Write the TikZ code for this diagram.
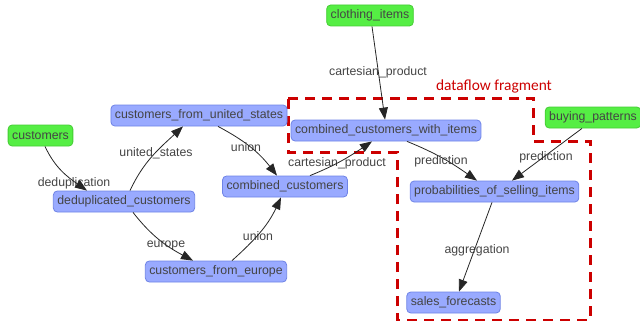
\documentclass[tikz,border=0pt]{standalone}
\usepackage{fontspec}
\setmainfont{Liberation Sans}
\newfontfamily\fragfont{Carlito}
\usepackage{tikz}
\usetikzlibrary{arrows.meta}
\definecolor{op_blue}{HTML}{99AAFF}
\definecolor{op_blue_line}{HTML}{6E83E6}
\definecolor{src_green}{HTML}{55EE44}
\definecolor{src_green_line}{HTML}{44CC33}
\definecolor{frag_red}{HTML}{CC0000}
\definecolor{txt_grey}{HTML}{444444}

\begin{document}
\begin{tikzpicture}[x=1pt,y=-1pt,
  source/.style={rectangle,draw=src_green_line,fill=src_green,line width=0.8pt,rounded corners=4pt,minimum height=21pt,inner xsep=4pt,inner ysep=0pt,text=txt_grey,font=\fontsize{12.3}{14}\selectfont},
  dataset/.style={rectangle,draw=op_blue_line,fill=op_blue,line width=0.8pt,rounded corners=4pt,minimum height=21pt,inner xsep=4pt,inner ysep=0pt,text=txt_grey,font=\fontsize{12.3}{14}\selectfont},
  edge_label/.style={inner sep=0pt,text=txt_grey,font=\fontsize{12.3}{14}\selectfont},
  flow/.style={-{Triangle[length=12pt,width=9pt]},line width=0.8pt,color=black!85},
  fragment/.style={draw=frag_red,line width=3pt,dash pattern=on 10pt off 7pt}
  ]

\useasboundingbox (0,0) rectangle (640,321);

% fragment
\draw[fragment] (288,98) -- (533,98) -- (533,141) -- (590,141) -- (590,320) -- (397,320) -- (397,152) -- (288,152) -- cycle;
\node[text=frag_red,font=\fragfont\fontsize{15.4}{17}\selectfont,inner sep=0pt] (frag) at (494,86) {dataflow fragment};

% sources
\node[source] (clothing) at (370,15.5) {clothing\_items};
\node[source] (customers) at (40.5,135.5) {customers};
\node[source] (buying) at (593,117.5) {buying\_patterns};

% datasets
\node[dataset] (us) at (199,115.5) {customers\_from\_united\_states};
\node[dataset] (withitems) at (386,130.5) {combined\_customers\_with\_items};
\node[dataset] (dedup) at (124,201.5) {deduplicated\_customers};
\node[dataset] (combined) at (285,186.5) {combined\_customers};
\node[dataset] (probs) at (494.5,191.5) {probabilities\_of\_selling\_items};
\node[dataset] (europe) at (216,271.5) {customers\_from\_europe};
\node[dataset] (sales) at (453.5,302.5) {sales\_forecasts};

% labels
\node[edge_label] (l_cart1) at (378,72) {cartesian\_product};
\node[edge_label] (l_us) at (156,153) {united\_states};
\node[edge_label] (l_union1) at (246,147) {union};
\node[edge_label] (l_dedup) at (74,183) {deduplication};
\node[edge_label] (l_cart2) at (337,163) {cartesian\_product};
\node[edge_label] (l_pred1) at (441,161) {prediction};
\node[edge_label] (l_pred2) at (546,157) {prediction};
\node[edge_label] (l_europe) at (166,245) {europe};
\node[edge_label] (l_union2) at (258,236) {union};
\node[edge_label] (l_aggr) at (477,250) {aggregation};

% edges
\draw[flow] ([xshift=2pt]clothing.south) -- ([xshift=-1pt]withitems.north);
\draw[flow] ([xshift=4.5pt]customers.south) to[out=-65,in=145] ([xshift=-37pt]dedup.north);
\draw[flow] ([xshift=6pt]dedup.north) to[out=65,in=-137] ([xshift=-16pt]us.south);
\draw[flow] ([xshift=19pt]us.south) to[out=-28,in=128] ([xshift=-8pt]combined.north);
\draw[flow] ([xshift=9pt]dedup.south) to[out=-52,in=152] ([xshift=-23pt]europe.north);
\draw[flow] ([xshift=16pt]europe.north) to[out=42,in=-115] ([xshift=-4pt]combined.south);
\draw[flow] ([xshift=25pt]combined.north) to[out=22,in=-146] ([xshift=-14pt]withitems.south);
\draw[flow] ([xshift=21pt]withitems.south) to[out=-22,in=145] ([xshift=-17.5pt]probs.north);
\draw[flow] ([xshift=-11pt]buying.south) -- ([xshift=17.5pt]probs.north);
\draw[flow] ([xshift=-2.5pt]probs.south) -- ([xshift=5.5pt]sales.north);

\end{tikzpicture}
\end{document}
